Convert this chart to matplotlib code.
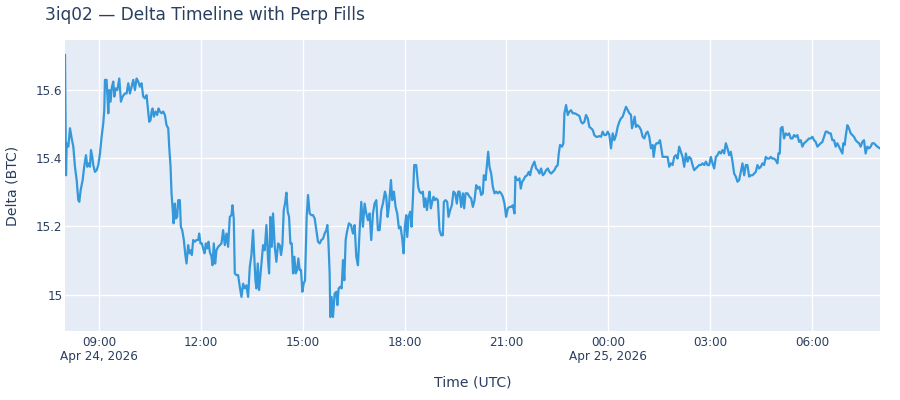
import matplotlib
matplotlib.use("Agg")
import matplotlib.pyplot as plt
import pandas as pd
import numpy as np

plt.rcParams['font.family'] = ['DejaVu Sans']

title = "3iq02 — Delta Timeline with Perp Fills"
x_label = "Time (UTC)"
y_label = "Delta (BTC)"
start_time = "2026-04-24 08:00"

# minutes after start, delta values (BTC)
minutes = [
    0, 1.8, 3, 5.9, 8.8, 11.8, 14.7, 17.6, 20.6, 23.5, 25.3, 27.6, 31.2, 33.5, 37.1, 39.4, 41.8, 44.1, 45.9, 48.2,
    50.0, 52.9, 55.9, 58.8, 61.8, 64.7, 67.6, 69.4, 70.6, 73.5, 76.5, 78.2, 80.6, 82.4, 85.3, 87.1, 89.4, 92.4, 95.9, 98.8,
    101.8, 105.9, 108.8, 111.8, 114.7, 117.6, 120.6, 123.5, 126.5, 129.4, 132.3, 135.3, 138.2, 141.2, 144.1, 147.1, 148.8, 151.2, 152.9, 154.7,
    157.1, 160.0, 162.9, 165.3, 167.6, 170.6, 173.5, 176.5, 179.4, 182.4, 184.1, 186.5, 188.2, 190.0, 191.8, 194.1, 195.9, 198.2, 200.0, 202.9,
    204.7, 207.1, 210.0, 212.3, 214.7, 217.6, 219.4, 221.8, 224.1, 226.5, 229.4, 232.3, 235.3, 237.1, 239.4, 241.8, 244.1, 246.5, 248.8, 251.2,
    253.5, 255.9, 258.8, 260.6, 262.9, 265.3, 267.6, 270.6, 273.5, 276.5, 279.4, 282.4, 285.3, 288.2, 291.2, 294.1, 295.9, 298.2, 300.0, 302.9,
    305.9, 308.8, 311.8, 314.7, 317.6, 320.6, 323.5, 326.5, 329.4, 332.3, 334.1, 336.5, 338.2, 340.6, 342.9,
    347.0, 350.0, 352.9, 355.9, 358.8, 360.6, 362.9, 365.3, 367.6, 370.6, 373.5, 376.5, 379.4, 381.7, 384.1, 386.5, 388.8, 391.2, 393.5, 395.9,
    398.2, 400.6, 402.9, 405.3, 407.6, 410.0, 412.3, 414.7, 417.0, 419.4, 421.7, 424.1, 425.3, 427.0, 429.4, 432.3, 435.3, 438.2, 441.2, 444.1,
    447.0, 450.0, 452.9, 455.9, 458.8, 461.7, 463.5, 465.3, 467.6, 468.8, 471.1, 473.5, 476.4, 479.4, 481.2, 483.5, 486.4, 488.8, 491.2, 493.5,
    495.9, 498.2, 501.7, 505.3, 508.8, 511.7, 514.7, 517.6, 520.6, 523.5, 526.4, 529.4, 532.3, 535.3, 538.2, 541.1, 544.1, 547.0, 550.0, 552.9,
    555.9, 558.8, 561.7, 565.3, 567.6, 570.0, 572.3, 575.9, 578.2, 581.1, 584.1, 587.0, 590.0, 592.9, 595.8, 598.2, 600.5, 602.9, 604.7, 607.0,
    610.0, 612.3, 614.7, 617.0, 620.5, 624.1, 626.4, 629.4, 632.3, 634.7, 637.0, 639.4, 641.7, 644.1, 646.4, 648.8, 651.1, 653.5, 655.8, 658.8,
    661.7, 664.7, 667.6, 669.4, 672.3, 675.3, 677.6, 680.6, 683.5, 686.4, 689.4, 692.3, 694.7,
    697.1, 700.0, 703.0, 705.3, 707.7, 711.2, 714.7, 717.7, 720.6, 723.6, 726.5, 729.5, 732.4, 735.3, 738.3, 740.0, 743.0, 745.3, 747.7, 750.0,
    753.0, 755.9, 758.9, 761.8, 764.7, 767.7, 770.6, 773.6, 776.5, 779.4, 782.4, 785.3, 788.3, 791.2, 794.2, 795.9, 798.3, 800.6, 803.0, 805.3,
    807.7, 810.0, 813.0, 816.5, 819.4, 821.8, 824.2, 826.5, 829.4, 832.4, 835.3, 838.3, 841.2, 844.2, 847.1, 850.0, 853.0, 855.9, 858.9, 861.8,
    864.7, 867.7, 870.6, 872.4, 874.7, 878.3, 880.6, 882.4, 885.3, 888.3, 891.2, 894.1, 897.1, 900.0, 903.0, 905.9, 908.9, 911.8, 914.7, 917.7,
    920.6, 923.6, 926.5, 929.5, 932.4, 935.3, 938.3, 941.2, 944.1, 947.1, 950.0, 953.0, 955.9, 958.9, 961.8, 964.7, 967.7, 970.6, 973.6, 976.5,
    979.4, 982.4, 985.3, 988.3, 991.2, 994.2, 997.1, 1000.0, 1001.8, 1004.1, 1006.5, 1008.8, 1011.8, 1014.7, 1017.7, 1020.6, 1023.6, 1026.5, 1029.4, 1032.4,
    1035.3, 1038.3, 1040.0, 1043.0, 1045.3, 1048.3, 1051.2, 1053.6, 1055.9, 1058.9, 1061.8, 1064.7,
    1067.6, 1070.5, 1073.5, 1076.4, 1079.4, 1082.3, 1085.2, 1088.2, 1091.1, 1094.1, 1097.0, 1100.0, 1102.9, 1105.8, 1108.8, 1111.7, 1114.7, 1117.6, 1120.5, 1123.5,
    1126.4, 1129.4, 1132.3, 1135.2, 1138.2, 1141.1, 1144.1, 1147.0, 1150.0, 1152.9, 1155.8, 1158.8, 1161.7, 1164.7, 1167.6, 1170.5, 1173.5, 1176.4, 1179.4, 1182.3,
    1185.2, 1188.2, 1191.1, 1194.1, 1197.0, 1200.0, 1202.9, 1205.8, 1208.8, 1211.7, 1214.7, 1217.6, 1220.5, 1223.5, 1226.4, 1229.4, 1232.3, 1235.2, 1238.2, 1241.1,
    1244.1, 1247.0, 1249.9, 1252.9, 1255.8, 1258.8, 1260.5, 1262.9, 1264.7, 1267.6, 1270.5, 1273.5, 1276.4, 1279.4, 1282.3, 1285.2, 1288.2, 1291.1, 1294.1, 1297.0,
    1299.9, 1302.9, 1305.8, 1308.8, 1311.7, 1314.6, 1317.6, 1320.5, 1323.5, 1326.4, 1329.4, 1332.3, 1335.2, 1338.2, 1341.1, 1344.1, 1347.0, 1349.9, 1352.9, 1355.8,
    1358.8, 1361.7, 1364.6, 1367.6, 1370.5, 1373.5, 1375.2, 1377.6, 1379.3, 1382.3, 1385.2, 1388.2, 1391.1, 1394.1, 1397.0, 1399.9, 1402.9, 1405.8, 1408.8, 1411.7,
    1414.6, 1417.6, 1420.5, 1423.5, 1426.4, 1429.4, 1432.3, 1435.2, 1440.0,
]
delta_btc = [
    15.703, 15.350, 15.444, 15.434, 15.488, 15.458, 15.434, 15.375, 15.336, 15.277, 15.272, 15.306, 15.336, 15.370, 15.409, 15.375, 15.385, 15.375, 15.424, 15.404,
    15.380, 15.360, 15.365, 15.380, 15.414, 15.463, 15.502, 15.541, 15.630, 15.630, 15.532, 15.600, 15.566, 15.605, 15.625, 15.581, 15.605, 15.600, 15.634, 15.566,
    15.581, 15.590, 15.590, 15.620, 15.590, 15.610, 15.630, 15.600, 15.634, 15.625, 15.610, 15.620, 15.581, 15.576, 15.585, 15.537, 15.507, 15.512, 15.537, 15.546,
    15.522, 15.537, 15.527, 15.546, 15.537, 15.532, 15.537, 15.527, 15.497, 15.488, 15.434, 15.375, 15.297, 15.257, 15.209, 15.267, 15.223, 15.228, 15.277, 15.277,
    15.199, 15.189, 15.160, 15.121, 15.091, 15.145, 15.121, 15.130, 15.116, 15.160, 15.155, 15.160, 15.160, 15.179, 15.150, 15.150, 15.135, 15.121, 15.150, 15.135,
    15.155, 15.125, 15.111, 15.086, 15.150, 15.091, 15.130, 15.140, 15.145, 15.150, 15.189, 15.145, 15.179, 15.140, 15.228, 15.233, 15.262, 15.223, 15.062, 15.057,
    15.057, 15.023, 14.993, 15.032, 15.018, 15.027, 14.993, 15.081, 15.116, 15.189, 15.121, 15.042, 15.018, 15.091, 15.013,
    15.091, 15.145, 15.130, 15.204, 15.101, 15.062, 15.228, 15.140, 15.238, 15.140, 15.096, 15.150, 15.145, 15.116, 15.145, 15.248, 15.267, 15.299, 15.243, 15.228,
    15.150, 15.150, 15.062, 15.111, 15.062, 15.072, 15.106, 15.072, 15.072, 15.008, 15.032, 15.042, 15.121, 15.228, 15.292, 15.238, 15.233, 15.233, 15.223, 15.189,
    15.155, 15.150, 15.160, 15.164, 15.179, 15.189, 15.204, 15.160, 15.062, 14.934, 14.993, 14.934, 15.003, 15.008, 14.969, 15.018, 15.023, 15.018, 15.101, 15.042,
    15.160, 15.184, 15.209, 15.204, 15.179, 15.204, 15.111, 15.086, 15.189, 15.272, 15.199, 15.267, 15.238, 15.218, 15.238, 15.160, 15.238, 15.267, 15.277, 15.189,
    15.189, 15.248, 15.267, 15.302, 15.287, 15.228, 15.257, 15.336, 15.277, 15.302, 15.257, 15.238, 15.194, 15.199, 15.164, 15.121, 15.199, 15.233, 15.169, 15.228,
    15.243, 15.199, 15.282, 15.380, 15.380, 15.316, 15.302, 15.297, 15.302, 15.257, 15.282, 15.248, 15.277, 15.302, 15.253, 15.272, 15.287, 15.277, 15.282, 15.277,
    15.189, 15.174, 15.174, 15.272, 15.277, 15.272, 15.228, 15.248, 15.262, 15.302, 15.297, 15.267, 15.302,
    15.302, 15.257, 15.297, 15.253, 15.297, 15.297, 15.287, 15.282, 15.257, 15.277, 15.321, 15.311, 15.316, 15.292, 15.297, 15.350, 15.336, 15.375, 15.419, 15.375,
    15.355, 15.316, 15.297, 15.302, 15.297, 15.302, 15.297, 15.287, 15.267, 15.228, 15.253, 15.257, 15.257, 15.262, 15.238, 15.346, 15.336, 15.336, 15.341, 15.311,
    15.331, 15.336, 15.346, 15.350, 15.360, 15.350, 15.370, 15.380, 15.390, 15.370, 15.365, 15.355, 15.370, 15.350, 15.355, 15.365, 15.370, 15.360, 15.355, 15.360,
    15.365, 15.375, 15.380, 15.414, 15.439, 15.434, 15.444, 15.532, 15.556, 15.527, 15.537, 15.541, 15.532, 15.532, 15.530, 15.527, 15.524, 15.507, 15.502, 15.507,
    15.527, 15.517, 15.492, 15.488, 15.483, 15.468, 15.463, 15.463, 15.465, 15.463, 15.478, 15.468, 15.468, 15.478, 15.468, 15.429, 15.473, 15.453, 15.468, 15.492,
    15.507, 15.517, 15.522, 15.537, 15.551, 15.541, 15.532, 15.527, 15.488, 15.502, 15.522, 15.492, 15.497, 15.492, 15.483, 15.463, 15.458, 15.473, 15.478, 15.463,
    15.429, 15.439, 15.404, 15.439, 15.444, 15.444, 15.453, 15.429, 15.404, 15.404, 15.404, 15.404,
    15.375, 15.385, 15.380, 15.404, 15.409, 15.399, 15.434, 15.419, 15.404, 15.375, 15.414, 15.390, 15.404, 15.399, 15.380, 15.365, 15.370, 15.375, 15.380, 15.380,
    15.385, 15.380, 15.390, 15.380, 15.380, 15.404, 15.385, 15.370, 15.404, 15.409, 15.419, 15.414, 15.424, 15.414, 15.444, 15.429, 15.409, 15.419, 15.390, 15.355,
    15.346, 15.331, 15.336, 15.360, 15.385, 15.350, 15.380, 15.380, 15.346, 15.350, 15.350, 15.355, 15.360, 15.380, 15.370, 15.375, 15.385, 15.380, 15.404, 15.399,
    15.399, 15.404, 15.399, 15.399, 15.394, 15.385, 15.414, 15.414, 15.488, 15.492, 15.458, 15.473, 15.468, 15.473, 15.458, 15.458, 15.468, 15.463, 15.468, 15.448,
    15.453, 15.434, 15.444, 15.448, 15.453, 15.458, 15.458, 15.463, 15.453, 15.448, 15.434, 15.439, 15.444, 15.448, 15.463, 15.478, 15.478, 15.473, 15.473, 15.453,
    15.453, 15.434, 15.444, 15.434, 15.424, 15.414, 15.444, 15.439, 15.463, 15.497, 15.488, 15.473, 15.468, 15.463, 15.453, 15.448, 15.444, 15.434, 15.448, 15.453,
    15.414, 15.434, 15.429, 15.434, 15.444, 15.444, 15.439, 15.434, 15.429,
]

x_ticks = ["2026-04-24 09:00", "2026-04-24 12:00", "2026-04-24 15:00", "2026-04-24 18:00",
           "2026-04-24 21:00", "2026-04-25 00:00", "2026-04-25 03:00", "2026-04-25 06:00"]
x_tick_labels = ["09:00\nApr 24, 2026", "12:00", "15:00", "18:00", "21:00",
                 "00:00\nApr 25, 2026", "03:00", "06:00"]
y_ticks = [15.0, 15.2, 15.4, 15.6]
y_tick_labels = ["15", "15.2", "15.4", "15.6"]

t0 = pd.Timestamp(start_time)
times = t0 + pd.to_timedelta(np.array(minutes), unit="min")

text_color = "#2a3f5f"
fig = plt.figure(figsize=(9, 4), dpi=100)
ax = fig.add_axes([65 / 900, 1 - 331 / 400, 815 / 900, 291 / 400])
ax.set_facecolor("#E5ECF6")
ax.plot(times, delta_btc, color="#3498db", linewidth=1.6, solid_joinstyle="round")

ax.set_xlim(t0, t0 + pd.Timedelta(minutes=1440))
ax.set_ylim(14.893, 15.747)

ax.set_xticks(pd.to_datetime(x_ticks))
ax.set_xticklabels(x_tick_labels)
ax.set_yticks(y_ticks)
ax.set_yticklabels(y_tick_labels)

ax.grid(True, color="white", linewidth=1.0)
ax.set_axisbelow(True)
for s in ax.spines.values():
    s.set_visible(False)
ax.tick_params(axis="both", length=0, labelsize=8.64, colors=text_color)
ax.tick_params(axis="x", pad=3.5)
ax.tick_params(axis="y", pad=1.8)
for lbl in ax.get_xticklabels():
    lbl.set_linespacing(1.12)

fig.text(45 / 900, 1 - 15 / 400, title, fontsize=12.24, color=text_color, va="center", ha="left")
fig.text((65 + 880) / 2 / 900, 1 - 382 / 400, x_label, fontsize=10.08, color=text_color, va="center", ha="center")
fig.text(13 / 900, 1 - 186 / 400, y_label, fontsize=10.08, color=text_color, va="center", ha="center", rotation=90)

fig.savefig("out.png", dpi=100)
